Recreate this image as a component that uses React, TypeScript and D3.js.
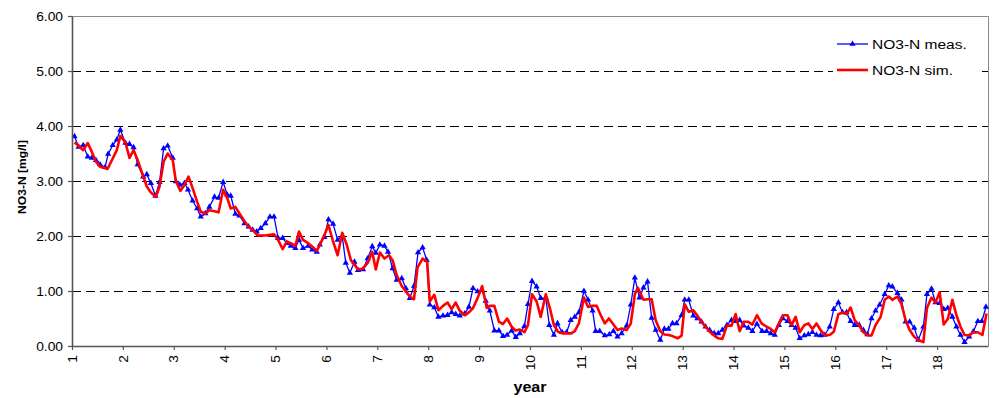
import React, { useEffect, useRef } from 'react';
import * as d3 from 'd3';

// measured NO3-N (blue, triangles)
const measYears = [
  1.05, 1.13, 1.22, 1.31, 1.39, 1.47, 1.55, 1.65, 1.71, 1.8, 1.88, 1.95,
  2.05, 2.13, 2.21, 2.29, 2.4, 2.47, 2.55, 2.64, 2.72, 2.8, 2.88, 2.98,
  3.04, 3.12, 3.21, 3.28, 3.37, 3.46, 3.53, 3.62, 3.7, 3.8, 3.88, 3.97,
  4.05, 4.12, 4.21, 4.29, 4.39, 4.47, 4.55, 4.63, 4.71, 4.8, 4.89, 4.97,
  5.05, 5.14, 5.22, 5.3, 5.39, 5.46, 5.54, 5.64, 5.72, 5.81, 5.87, 5.96,
  6.04, 6.13, 6.22, 6.31, 6.38, 6.46, 6.55, 6.62, 6.72, 6.81, 6.9, 6.97,
  7.05, 7.14, 7.21, 7.3, 7.38, 7.48, 7.56, 7.64, 7.72, 7.8, 7.89, 7.97,
  8.03, 8.12, 8.2, 8.29, 8.38, 8.46, 8.54, 8.62, 8.72, 8.8, 8.88, 8.97,
  9.06, 9.13, 9.21, 9.3, 9.39, 9.47, 9.55, 9.64, 9.72, 9.8, 9.89, 9.96,
  10.04, 10.13, 10.21, 10.31, 10.38, 10.47, 10.54, 10.63, 10.72, 10.8, 10.88, 10.96,
  11.06, 11.14, 11.23, 11.29, 11.37, 11.47, 11.56, 11.64, 11.72, 11.8, 11.9, 11.98,
  12.06, 12.15, 12.23, 12.31, 12.39, 12.47, 12.56, 12.64, 12.72, 12.8, 12.88, 12.98,
  13.04, 13.12, 13.21, 13.29, 13.37, 13.45, 13.53, 13.62, 13.7, 13.78, 13.87, 13.96,
  14.04, 14.12, 14.2, 14.29, 14.37, 14.46, 14.56, 14.65, 14.73, 14.81, 14.89, 14.97,
  15.06, 15.14, 15.22, 15.3, 15.39, 15.47, 15.55, 15.63, 15.71, 15.79, 15.89, 15.97,
  16.06, 16.14, 16.22, 16.3, 16.38, 16.47, 16.55, 16.63, 16.71, 16.79, 16.87, 16.97,
  17.05, 17.12, 17.22, 17.3, 17.38, 17.46, 17.55, 17.63, 17.73, 17.8, 17.89, 17.97,
  18.05, 18.13, 18.21, 18.3, 18.38, 18.46, 18.54, 18.63, 18.71, 18.8, 18.88, 18.96,
];
const measValues = [
  3.81, 3.62, 3.65, 3.44, 3.42, 3.38, 3.3, 3.25, 3.49, 3.65, 3.75, 3.93,
  3.69, 3.67, 3.61, 3.3, 3.08, 3.12, 2.96, 2.73, 2.98, 3.59, 3.64, 3.42,
  2.99, 2.93, 2.96, 2.84, 2.64, 2.5, 2.35, 2.41, 2.53, 2.71, 2.69, 2.98,
  2.75, 2.73, 2.4, 2.37, 2.23, 2.17, 2.11, 2.08, 2.14, 2.23, 2.35, 2.35,
  1.96, 1.96, 1.87, 1.82, 1.78, 1.93, 1.78, 1.82, 1.75, 1.71, 1.84, 1.98,
  2.3, 2.22, 1.93, 2.0, 1.51, 1.33, 1.53, 1.38, 1.39, 1.59, 1.81, 1.69,
  1.84, 1.82, 1.71, 1.41, 1.2, 1.23, 1.05, 0.87, 1.09, 1.7, 1.79, 1.56,
  0.75, 0.7, 0.53, 0.55, 0.56, 0.61, 0.58, 0.55, 0.59, 0.71, 1.05, 0.99,
  1.01, 0.82, 0.64, 0.28, 0.28, 0.18, 0.2, 0.28, 0.16, 0.23, 0.36, 0.76,
  1.18, 1.08, 0.87, 0.87, 0.38, 0.2, 0.41, 0.25, 0.25, 0.47, 0.53, 0.61,
  1.0, 0.84, 0.64, 0.27, 0.27, 0.19, 0.21, 0.27, 0.17, 0.23, 0.37, 0.75,
  1.24, 0.88, 1.06, 1.17, 0.51, 0.29, 0.11, 0.31, 0.31, 0.41, 0.41, 0.56,
  0.84, 0.84, 0.55, 0.5, 0.44, 0.35, 0.29, 0.23, 0.23, 0.29, 0.38, 0.47,
  0.45, 0.47, 0.37, 0.33, 0.27, 0.4, 0.27, 0.27, 0.23, 0.2, 0.38, 0.5,
  0.45, 0.38, 0.33, 0.14, 0.19, 0.21, 0.25, 0.2, 0.19, 0.2, 0.35, 0.67,
  0.79, 0.61, 0.61, 0.45, 0.38, 0.38, 0.29, 0.21, 0.5, 0.64, 0.75, 0.94,
  1.1, 1.08, 0.96, 0.84, 0.44, 0.44, 0.33, 0.11, 0.35, 0.94, 1.04, 0.79,
  0.78, 0.67, 0.69, 0.53, 0.35, 0.2, 0.07, 0.17, 0.26, 0.45, 0.45, 0.71,
];

// simulated NO3-N (red line)
const simYears = [
  1.05, 1.13, 1.22, 1.31, 1.39, 1.47, 1.55, 1.7, 1.8, 1.88, 1.95,
  2.05, 2.13, 2.21, 2.29, 2.39, 2.47, 2.55, 2.65, 2.72, 2.8, 2.88, 2.98,
  3.04, 3.13, 3.21, 3.29, 3.37, 3.46, 3.53, 3.62, 3.7, 3.8, 3.88, 3.97,
  4.05, 4.12, 4.21, 4.29, 4.39, 4.47, 4.55, 4.65, 4.8, 4.89, 4.97,
  5.05, 5.14, 5.22, 5.3, 5.39, 5.46, 5.54, 5.64, 5.72, 5.81, 5.87, 5.96,
  6.04, 6.13, 6.22, 6.31, 6.4, 6.48, 6.56, 6.62, 6.72, 6.81, 6.9, 6.97,
  7.05, 7.14, 7.23, 7.3, 7.38, 7.48, 7.56, 7.64, 7.72, 7.79, 7.89, 7.98,
  8.03, 8.12, 8.2, 8.29, 8.38, 8.46, 8.54, 8.62, 8.72, 8.8, 8.88, 8.97,
  9.06, 9.15, 9.21, 9.3, 9.39, 9.47, 9.55, 9.64, 9.72, 9.8, 9.89, 9.96,
  10.04, 10.13, 10.21, 10.31, 10.39, 10.47, 10.55, 10.63, 10.72, 10.81, 10.88, 10.96,
  11.06, 11.14, 11.23, 11.31, 11.39, 11.47, 11.55, 11.64, 11.72, 11.8, 11.9, 11.98,
  12.06, 12.12, 12.23, 12.31, 12.39, 12.47, 12.56, 12.64, 12.72, 12.8, 12.9, 12.98,
  13.04, 13.12, 13.21, 13.29, 13.37, 13.45, 13.53, 13.62, 13.7, 13.78, 13.87, 13.96,
  14.04, 14.12, 14.2, 14.29, 14.37, 14.46, 14.55, 14.65, 14.73, 14.81, 14.89, 14.97,
  15.06, 15.14, 15.22, 15.3, 15.39, 15.47, 15.55, 15.63, 15.71, 15.79, 15.89, 15.97,
  16.06, 16.14, 16.22, 16.3, 16.38, 16.47, 16.55, 16.64, 16.71, 16.79, 16.89, 16.97,
  17.05, 17.12, 17.22, 17.3, 17.38, 17.46, 17.55, 17.63, 17.73, 17.8, 17.89, 17.97,
  18.05, 18.13, 18.21, 18.3, 18.38, 18.46, 18.54, 18.63, 18.71, 18.8, 18.89, 18.97,
];
const simValues = [
  3.7, 3.64, 3.56, 3.69, 3.53, 3.35, 3.26, 3.22, 3.41, 3.56, 3.82,
  3.7, 3.42, 3.56, 3.38, 3.11, 2.9, 2.79, 2.71, 2.9, 3.35, 3.5, 3.38,
  3.0, 2.82, 2.93, 3.08, 2.87, 2.62, 2.44, 2.41, 2.47, 2.45, 2.43, 2.84,
  2.69, 2.5, 2.53, 2.41, 2.27, 2.17, 2.11, 2.01, 2.01, 2.02, 2.03,
  1.93, 1.76, 1.9, 1.87, 1.82, 2.08, 1.93, 1.87, 1.81, 1.73, 1.84, 2.02,
  2.2, 1.9, 1.65, 2.06, 1.84, 1.56, 1.47, 1.39, 1.41, 1.51, 1.71, 1.39,
  1.7, 1.59, 1.65, 1.56, 1.29, 1.09, 0.99, 0.9, 0.85, 1.43, 1.59, 1.53,
  0.81, 0.93, 0.65, 0.73, 0.79, 0.67, 0.79, 0.64, 0.56, 0.61, 0.69, 0.87,
  1.09, 0.69, 0.73, 0.73, 0.44, 0.4, 0.5, 0.35, 0.28, 0.3, 0.25, 0.38,
  0.94, 0.81, 0.53, 0.94, 0.69, 0.38, 0.26, 0.23, 0.23, 0.23, 0.27, 0.41,
  0.88, 0.71, 0.73, 0.73, 0.56, 0.41, 0.5, 0.39, 0.29, 0.32, 0.29, 0.41,
  0.94, 1.06, 0.84, 0.85, 0.85, 0.47, 0.27, 0.21, 0.2, 0.18, 0.14, 0.19,
  0.76, 0.62, 0.65, 0.55, 0.44, 0.35, 0.26, 0.19, 0.14, 0.13, 0.37, 0.37,
  0.58, 0.27, 0.44, 0.44, 0.39, 0.56, 0.41, 0.35, 0.31, 0.25, 0.41, 0.56,
  0.56, 0.38, 0.53, 0.25, 0.38, 0.41, 0.31, 0.41, 0.29, 0.2, 0.2, 0.26,
  0.58, 0.61, 0.58, 0.7, 0.47, 0.37, 0.25, 0.19, 0.19, 0.38, 0.53, 0.84,
  0.9, 0.84, 0.9, 0.76, 0.47, 0.29, 0.17, 0.11, 0.07, 0.69, 0.88, 0.79,
  0.98, 0.39, 0.49, 0.84, 0.56, 0.35, 0.2, 0.19, 0.25, 0.25, 0.2, 0.59,
];

const yearTicks = [1, 2, 3, 4, 5, 6, 7, 8, 9, 10, 11, 12, 13, 14, 15, 16, 17, 18];
const valueTicks = [0, 1, 2, 3, 4, 5, 6];

const App: React.FC = () => {
  const ref = useRef<SVGSVGElement>(null);

  useEffect(() => {
    if (!ref.current) return;

    const width = 995;
    const height = 398;
    const margin = { top: 16, right: 7, bottom: 52, left: 72 };
    const font = 'Arial, "Liberation Sans", sans-serif';
    const stretch = 1.15;

    const svg = d3.select(ref.current);
    svg.selectAll('*').remove();
    svg.attr('width', width).attr('height', height);

    const x = d3.scaleLinear().domain([1, 19]).range([margin.left, width - margin.right]);
    const y = d3.scaleLinear().domain([0, 6]).range([height - margin.bottom, margin.top]);

    // dashed gridlines
    svg.append('g')
      .selectAll('line')
      .data(valueTicks.filter(v => v > 0 && v < 6))
      .join('line')
      .attr('x1', x(1))
      .attr('x2', x(19))
      .attr('y1', d => Math.round(y(d)) + 0.5)
      .attr('y2', d => Math.round(y(d)) + 0.5)
      .attr('stroke', '#000')
      .attr('stroke-dasharray', '9,5');

    // plot area border (top + right)
    svg.append('path')
      .attr('d', `M${x(1)},${y(6) + 0.5}H${x(19) + 0.5}V${y(0)}`)
      .attr('fill', 'none')
      .attr('stroke', '#8a8a8a');

    // legend box
    const lg = svg.append('g');
    lg.append('rect')
      .attr('x', 833).attr('y', 30).attr('width', 144).attr('height', 60)
      .attr('fill', '#fff');

    // measured series
    const measData = measYears.map((yr, i) => [yr, measValues[i]] as [number, number]);
    const simData = simYears.map((yr, i) => [yr, simValues[i]] as [number, number]);
    const line = d3.line<[number, number]>().x(d => x(d[0])).y(d => y(d[1]));

    svg.append('path')
      .datum(measData)
      .attr('d', line)
      .attr('fill', 'none')
      .attr('stroke', '#0000ff')
      .attr('stroke-width', 1.3);

    const tri = d3.symbol().type(d3.symbolTriangle).size(17);
    svg.append('g')
      .selectAll('path')
      .data(measData)
      .join('path')
      .attr('d', tri as any)
      .attr('transform', d => `translate(${x(d[0])},${y(d[1])})`)
      .attr('fill', '#0000ff');

    svg.append('path')
      .datum(simData)
      .attr('d', line)
      .attr('fill', 'none')
      .attr('stroke', '#ff0000')
      .attr('stroke-width', 2.6)
      .attr('stroke-linejoin', 'round');

    // axes
    const yAxis = svg.append('g')
      .attr('transform', `translate(${margin.left},0)`)
      .call(d3.axisLeft(y).tickValues(valueTicks).tickSize(4).tickSizeOuter(0).tickFormat(d3.format('.2f')));
    const xAxis = svg.append('g')
      .attr('transform', `translate(0,${height - margin.bottom})`)
      .call(d3.axisBottom(x).tickValues(yearTicks).tickSize(4).tickSizeOuter(0).tickFormat(d3.format('d')));

    [yAxis, xAxis].forEach(ax => {
      ax.select('.domain').attr('stroke', '#555').attr('stroke-width', 1.6);
      ax.selectAll('.tick line').attr('stroke', '#555').attr('stroke-width', 1.2);
      ax.selectAll('text').attr('fill', '#000').attr('font-family', font).attr('font-size', 12);
    });
    yAxis.selectAll('text')
      .attr('x', -9 / stretch)
      .attr('dy', '0.35em')
      .attr('transform', `scale(${stretch},1)`);
    xAxis.selectAll('text')
      .attr('x', -9 / stretch)
      .attr('y', 0)
      .attr('dy', '0.35em')
      .attr('text-anchor', 'end')
      .attr('transform', `rotate(-90) scale(${stretch},1)`);

    // axis titles
    svg.append('text')
      .attr('transform', `translate(25.5,177) rotate(-90) scale(1.1,1)`)
      .attr('text-anchor', 'middle')
      .attr('font-family', font)
      .attr('font-weight', 'bold')
      .attr('font-size', 11)
      .text('NO3-N [mg/l]');
    svg.append('text')
      .attr('transform', `translate(530,392) scale(${stretch},1)`)
      .attr('text-anchor', 'middle')
      .attr('font-family', font)
      .attr('font-weight', 'bold')
      .attr('font-size', 14)
      .text('year');

    // legend entries
    const legendItems = [
      { label: 'NO3-N meas.', color: '#0000ff', width: 1.3, marker: true, yy: 44 },
      { label: 'NO3-N sim.', color: '#ff0000', width: 2.6, marker: false, yy: 70 },
    ];
    legendItems.forEach(it => {
      lg.append('line')
        .attr('x1', 837).attr('x2', 868).attr('y1', it.yy).attr('y2', it.yy)
        .attr('stroke', it.color).attr('stroke-width', it.width);
      if (it.marker) {
        lg.append('path')
          .attr('d', tri as any)
          .attr('transform', `translate(852.5,${it.yy})`)
          .attr('fill', it.color);
      }
      lg.append('text')
        .attr('transform', `translate(872,${it.yy}) scale(${stretch},1)`)
        .attr('dy', '0.35em')
        .attr('font-family', font)
        .attr('font-size', 13.5)
        .attr('fill', '#000')
        .text(it.label);
    });
  }, []);

  return <svg ref={ref} style={{ position: 'absolute', left: 0, top: 0 }}></svg>;
};

export default App;
